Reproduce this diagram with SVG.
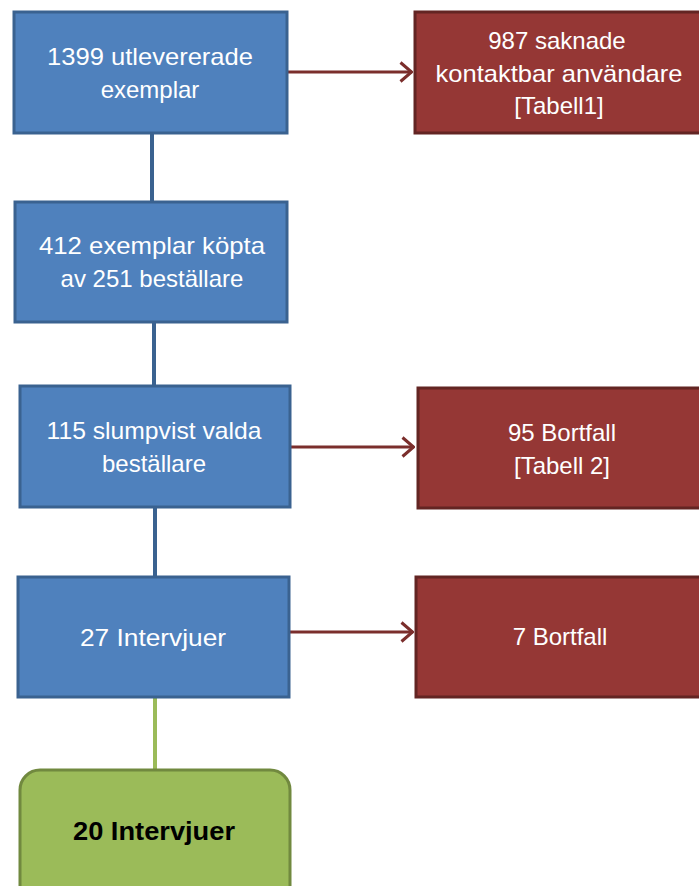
<svg xmlns="http://www.w3.org/2000/svg" width="699" height="886" viewBox="0 0 699 886">
<defs>
<marker id="arr" viewBox="0 0 14 22" refX="13" refY="11" markerWidth="14" markerHeight="22" markerUnits="userSpaceOnUse" orient="auto">
<path d="M1.5,1.5 L12.5,11 L1.5,20.5" fill="none" stroke="#7b2e2c" stroke-width="3"/>
</marker>
</defs>
<style>
.blue{fill:#4f81bd;stroke:#3a6290;stroke-width:3}
.red{fill:#953735;stroke:#632523;stroke-width:3}
.green{fill:#9bbb59;stroke:#71893f;stroke-width:3}
.t{font-family:"Liberation Sans",Arial,sans-serif;font-size:24px;fill:#ffffff;text-anchor:middle}
.tb{font-family:"Liberation Sans",Arial,sans-serif;font-size:26px;font-weight:bold;fill:#000000;text-anchor:middle}
.vc{stroke:#3a6290;stroke-width:4;fill:none}
.gc{stroke:#9bbb59;stroke-width:4;fill:none}
.hc{stroke:#7b2e2c;stroke-width:3;fill:none}
</style>
<rect width="699" height="886" fill="#ffffff"/>
<g id="connectors">
<line class="vc" x1="152" y1="133" x2="152" y2="202"/>
<line class="vc" x1="154" y1="322" x2="154" y2="386"/>
<line class="vc" x1="155" y1="507" x2="155" y2="577"/>
<line class="gc" x1="155" y1="697" x2="155" y2="770"/>
<line class="hc" x1="287" y1="72" x2="412" y2="72" marker-end="url(#arr)"/>
<line class="hc" x1="290" y1="447" x2="414" y2="447" marker-end="url(#arr)"/>
<line class="hc" x1="289" y1="632" x2="413" y2="632" marker-end="url(#arr)"/>
</g>
<g id="n1">
<rect class="blue" x="14" y="12" width="273" height="121"/>
<text class="t" x="150" y="65" textLength="206" lengthAdjust="spacingAndGlyphs">1399 utlevererade</text>
<text class="t" x="150" y="98">exemplar</text>
</g>
<g id="r1">
<rect class="red" x="415" y="12" width="300" height="121"/>
<text class="t" x="557" y="49">987 saknade</text>
<text class="t" x="559" y="82" textLength="247" lengthAdjust="spacingAndGlyphs">kontaktbar användare</text>
<text class="t" x="559" y="114">[Tabell1]</text>
</g>
<g id="n2">
<rect class="blue" x="15" y="202" width="272" height="120"/>
<text class="t" x="152" y="254" textLength="226" lengthAdjust="spacingAndGlyphs">412 exemplar köpta</text>
<text class="t" x="152" y="287">av 251  beställare</text>
</g>
<g id="n3">
<rect class="blue" x="20" y="386" width="270" height="121"/>
<text class="t" x="154" y="439" textLength="215" lengthAdjust="spacingAndGlyphs">115 slumpvist valda</text>
<text class="t" x="154" y="472">beställare</text>
</g>
<g id="r2">
<rect class="red" x="418" y="388" width="300" height="120"/>
<text class="t" x="562" y="441">95 Bortfall</text>
<text class="t" x="562" y="474">[Tabell 2]</text>
</g>
<g id="n4">
<rect class="blue" x="18" y="577" width="271" height="120"/>
<text class="t" x="153" y="646" textLength="146" lengthAdjust="spacingAndGlyphs">27 Intervjuer</text>
</g>
<g id="r3">
<rect class="red" x="416" y="577" width="300" height="120"/>
<text class="t" x="560" y="645">7 Bortfall</text>
</g>
<g id="n5">
<rect class="green" x="20" y="770" width="270" height="140" rx="20" ry="20"/>
<text class="tb" x="154" y="840" textLength="162" lengthAdjust="spacingAndGlyphs">20 Intervjuer</text>
</g>
</svg>
